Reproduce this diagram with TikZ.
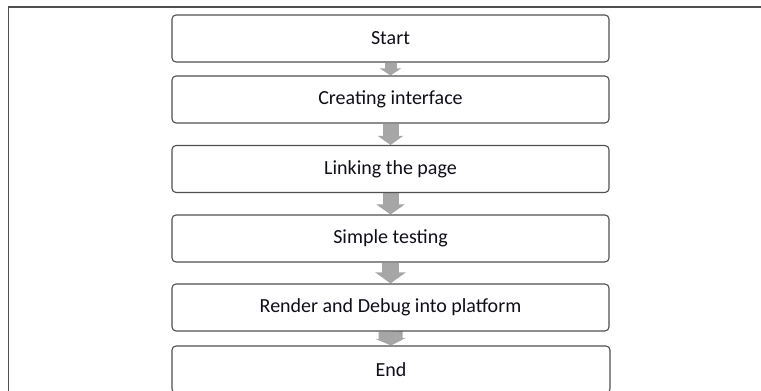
\documentclass[tikz,border=0pt]{standalone}
\usepackage{fontspec}
\setmainfont{Carlito}
\usetikzlibrary{arrows.meta,backgrounds}
\definecolor{arrowgray}{RGB}{166,166,166}
\definecolor{boxline}{RGB}{80,80,80}
\definecolor{txt}{RGB}{15,15,25}
\tikzset{
  stepbox/.style={draw=boxline, line width=1.1pt, rounded corners=4pt,
    minimum width=437pt, minimum height=47pt, inner sep=0pt,
    text=txt, font=\fontsize{20}{24}\selectfont},
  flowarrow/.style n args={3}{draw=arrowgray, line width=#1,
    -{Triangle[width=#2,length=#3,fill=arrowgray,color=arrowgray]}},
  framel/.style={draw=boxline}
}
\begin{document}
\begin{tikzpicture}[x=1pt,y=1pt]
\useasboundingbox (0,0) rectangle (761,391);
\coordinate (ftl) at (8,384);
\coordinate (ftr) at (761,384);
\coordinate (fbl) at (8,0);
\draw[framel, line width=1.8pt] (ftl) -- (ftr);
\draw[framel, line width=1pt] (ftl) -- (fbl);

\node[stepbox] (s1) at (390.5,352.5) {Start};
\node[stepbox] (s2) at (390.5,291.5) {Creating interface};
\node[stepbox] (s3) at (390.5,222) {Linking the page};
\node[stepbox] (s4) at (390.5,152.5) {Simple testing};
\node[stepbox] (s5) at (390.5,83.5) {Render and Debug into platform};
\node[stepbox, minimum width=438pt] (s6) at (391,21.5) {End};

\begin{scope}[on background layer]
\draw[flowarrow={12pt}{21pt}{7pt}] (s1.south) -- (s2.north);
\draw[flowarrow={16pt}{25pt}{9pt}] (s2.south) -- (s3.north);
\draw[flowarrow={16pt}{28pt}{10pt}] (s3.south) -- (s4.north);
\draw[flowarrow={17pt}{30pt}{11pt}] (s4.south) -- (s5.north);
\draw[flowarrow={24pt}{30pt}{7pt}] (s5.south) -- (s6.north);
\end{scope}
\end{tikzpicture}
\end{document}
